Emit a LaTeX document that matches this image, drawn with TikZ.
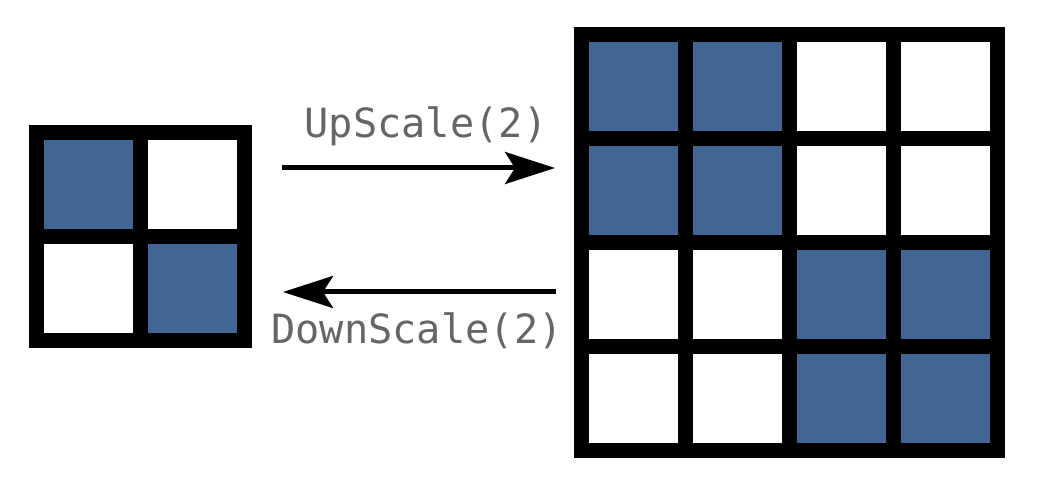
\documentclass[tikz,border=0pt]{standalone}
\usepackage{fontspec}
\newfontfamily\labelfont{DejaVu Sans Mono}
\usetikzlibrary{arrows.meta}
\definecolor{cellblue}{RGB}{66,102,148}
\definecolor{labelgray}{RGB}{102,102,102}
\tikzset{
  gridline/.style={line width=15pt, line join=miter, line cap=rect},
  bluecell/.style={fill=cellblue},
  scalearrow/.style={line width=5pt, -{Stealth[length=50pt,width=32pt,inset=10pt]}},
  oplabel/.style={font=\labelfont\fontsize{40.3}{40.3}\selectfont, text=labelgray, inner sep=0pt}
}
\begin{document}
\begin{tikzpicture}[x=1pt,y=-1pt]
\useasboundingbox (0,0) rectangle (1052,494);
% small grid (2x2), origin 36.5,132.5, pitch 104
\begin{scope}[shift={(36.5,132.5)}]
  \fill[bluecell] (0,0) rectangle (104,104);
  \fill[bluecell] (104,104) rectangle (208,208);
  \draw[gridline] (0,0) rectangle (208,208);
  \draw[gridline] (104,0) -- (104,208);
  \draw[gridline] (0,104) -- (208,104);
\end{scope}
% large grid (4x4), origin 581.5,34.5
\begin{scope}[shift={(581.5,34.5)}]
  \fill[bluecell] (0,0) rectangle (208,208);
  \fill[bluecell] (208,208) rectangle (416,416);
  \draw[gridline] (0,0) rectangle (416,416);
  \foreach \k in {104,208,312} {
    \draw[gridline] (\k,0) -- (\k,416);
    \draw[gridline] (0,\k) -- (416,\k);
  }
\end{scope}
% arrows
\coordinate (upS) at (282,168);
\coordinate (upE) at (555,168);
\coordinate (dnS) at (556,292);
\coordinate (dnE) at (283,292);
\draw[scalearrow] (upS) -- (upE);
\draw[scalearrow] (dnS) -- (dnE);
\node[oplabel, anchor=base] (uplabel) at (426,138) {UpScale(2)};
\node[oplabel, anchor=base] (dnlabel) at (417,343) {DownScale(2)};
\end{tikzpicture}
\end{document}
